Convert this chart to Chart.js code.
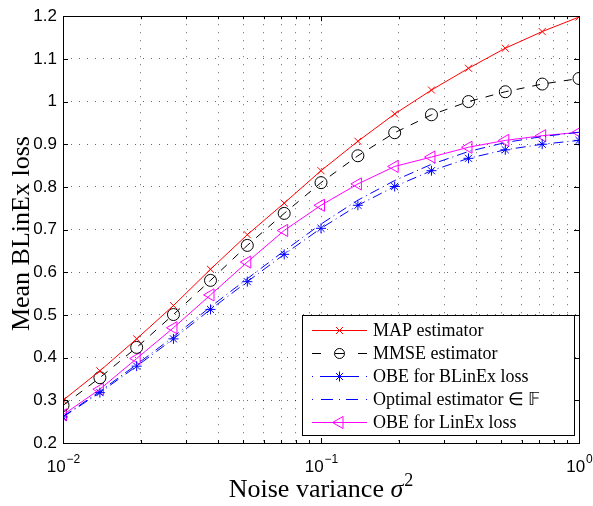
<!DOCTYPE html>
<html>
<head>
<meta charset="utf-8">
<script src="https://cdn.jsdelivr.net/npm/chart.js@4/dist/chart.umd.min.js"></script>
<style>
  body { margin: 0; background: #fff; }
  #wrap { width: 593px; height: 506px; }
</style>
</head>
<body>
<div id="wrap"><canvas id="lossChart" width="593" height="506"></canvas></div>
<script>
// --- DATA ---
const noiseVar = [0.01, 0.0139, 0.0193, 0.0268, 0.0373, 0.0518, 0.0720, 0.1, 0.139, 0.193, 0.268, 0.373, 0.518, 0.720, 1.0];

const mapLoss     = [0.300, 0.369, 0.444, 0.522, 0.607, 0.688, 0.762, 0.838, 0.907, 0.971, 1.027, 1.078, 1.125, 1.164, 1.198];
const mmseLoss    = [0.288, 0.353, 0.424, 0.501, 0.581, 0.663, 0.738, 0.810, 0.873, 0.927, 0.969, 1.000, 1.023, 1.041, 1.054];
const obeBlinex   = [0.261, 0.318, 0.380, 0.444, 0.513, 0.578, 0.642, 0.703, 0.757, 0.801, 0.838, 0.867, 0.887, 0.900, 0.909];
const optimalLoss = [0.262, 0.321, 0.384, 0.449, 0.519, 0.585, 0.650, 0.713, 0.769, 0.815, 0.853, 0.883, 0.904, 0.918, 0.928];
const obeLinex    = [0.266, 0.326, 0.398, 0.470, 0.547, 0.624, 0.698, 0.757, 0.807, 0.848, 0.870, 0.893, 0.909, 0.920, 0.928];

const seriesNames = ['MAP estimator', 'MMSE estimator', 'OBE for BLinEx loss', 'Optimal estimator \u2208 \u{1D53D}', 'OBE for LinEx loss'];

// tick / grid positions
const xGridValues = [0.01, 0.02, 0.03, 0.04, 0.05, 0.06, 0.07, 0.08, 0.09, 0.1, 0.2, 0.3, 0.4, 0.5, 0.6, 0.7, 0.8, 0.9, 1];
const xDecades = [0.01, 0.1, 1];
const xDecadeExp = ['\u22122', '\u22121', '0'];
const yMin = 0.2, yMax = 1.2, yStep = 0.1;

const SANS = '"Liberation Sans", Arial, Helvetica, sans-serif';
const SERIF = '"Liberation Serif", "Times New Roman", serif';
const GRID = 'rgba(0,0,0,0.6)';

const pts = arr => arr.map((y, i) => ({ x: noiseVar[i], y }));

// --- PLUGIN: axis box, inner ticks, labels, legend ---
const matlabDecor = {
    id: 'matlabDecor',
    afterDraw(chart) {
        const ctx = chart.ctx;
        const a = chart.chartArea;
        const xs = chart.scales.x, ys = chart.scales.y;
        ctx.save();

        // axis box
        ctx.strokeStyle = '#000';
        ctx.lineWidth = 1;
        ctx.setLineDash([]);
        ctx.strokeRect(Math.round(a.left) + 0.5, Math.round(a.top) + 0.5,
                       Math.round(a.right - a.left), Math.round(a.bottom - a.top));

        // inner tick marks
        ctx.beginPath();
        xGridValues.forEach(v => {
            const px = Math.round(xs.getPixelForValue(v)) + 0.5;
            const len = xDecades.includes(v) ? 5 : 3;
            ctx.moveTo(px, a.bottom); ctx.lineTo(px, a.bottom - len);
            ctx.moveTo(px, a.top); ctx.lineTo(px, a.top + len);
        });
        for (let v = yMin; v <= yMax + 1e-9; v += yStep) {
            const py = Math.round(ys.getPixelForValue(v)) + 0.5;
            ctx.moveTo(a.left, py); ctx.lineTo(a.left + 5, py);
            ctx.moveTo(a.right, py); ctx.lineTo(a.right - 5, py);
        }
        ctx.stroke();

        // x tick labels 10^n
        ctx.fillStyle = '#000';
        ctx.textBaseline = 'alphabetic';
        ctx.textAlign = 'left';
        xDecades.forEach((v, i) => {
            const px = xs.getPixelForValue(v);
            ctx.font = '17px ' + SANS;
            const wBase = ctx.measureText('10').width;
            ctx.font = '12px ' + SANS;
            const wExp = ctx.measureText(xDecadeExp[i]).width;
            const x0 = px - (wBase + wExp) / 2;
            ctx.font = '17px ' + SANS;
            ctx.fillText('10', x0, 472);
            ctx.font = '12px ' + SANS;
            ctx.fillText(xDecadeExp[i], x0 + wBase + 1, 463);
        });

        // x axis title
        const cx = (a.left + a.right) / 2;
        ctx.font = '26px ' + SERIF;
        const t1 = 'Noise variance ';
        const w1 = ctx.measureText(t1).width;
        ctx.font = 'italic 26px ' + SERIF;
        const w2 = ctx.measureText('\u03C3').width;
        ctx.font = '18px ' + SERIF;
        const w3 = ctx.measureText('2').width;
        let tx = cx - (w1 + w2 + w3 + 1) / 2;
        ctx.font = '26px ' + SERIF;
        ctx.fillText(t1, tx, 497);
        ctx.font = 'italic 26px ' + SERIF;
        ctx.fillText('\u03C3', tx + w1, 497);
        ctx.font = '18px ' + SERIF;
        ctx.fillText('2', tx + w1 + w2 + 1, 486);

        // y axis title
        ctx.save();
        ctx.translate(29, (a.top + a.bottom) / 2 + 4);
        ctx.rotate(-Math.PI / 2);
        ctx.textAlign = 'center';
        ctx.font = '26px ' + SERIF;
        ctx.fillText('Mean BLinEx loss', 0, 0);
        ctx.restore();

        // legend
        const lw = 272, lh = 120;
        const lx = Math.round(a.right - 5 - lw), ly = Math.round(a.bottom - 8 - lh);
        ctx.fillStyle = '#fff';
        ctx.fillRect(lx, ly, lw, lh);
        ctx.strokeStyle = '#000';
        ctx.strokeRect(lx + 0.5, ly + 0.5, lw, lh);
        const rowH = 23.1;
        chart.data.datasets.forEach((ds, i) => {
            const ry = Math.round(ly + 15 + i * rowH) + 0.5;
            const x1 = lx + 10, x2 = lx + 65, xm = (x1 + x2) / 2;
            ctx.strokeStyle = ds.borderColor;
            ctx.lineWidth = ds.borderWidth;
            ctx.setLineDash(ds.legendDash || ds.borderDash || []);
            ctx.beginPath();
            ctx.moveTo(x1, ry); ctx.lineTo(x2, ry);
            ctx.stroke();
            ctx.setLineDash([]);
            if (ds.pointRadius > 0) {
                ctx.fillStyle = 'rgba(0,0,0,0)';
                ctx.strokeStyle = ds.pointBorderColor;
                ctx.lineWidth = ds.pointBorderWidth;
                Chart.helpers.drawPoint(ctx, {
                    pointStyle: ds.pointStyle, rotation: ds.pointRotation || 0,
                    radius: ds.legendRadius || ds.pointRadius, borderWidth: ds.pointBorderWidth
                }, xm, ry);
            }
            ctx.fillStyle = '#000';
            ctx.font = '18px ' + SERIF;
            ctx.textAlign = 'left';
            ctx.textBaseline = 'middle';
            ctx.fillText(ds.label, lx + 71, ry + 1);
        });
        ctx.restore();
    }
};

const ctx = document.getElementById('lossChart').getContext('2d');
new Chart(ctx, {
    type: 'line',
    data: {
        datasets: [
            {
                label: seriesNames[0], data: pts(mapLoss),
                borderColor: '#ff0000', borderWidth: 1,
                pointStyle: 'crossRot', pointRadius: 5, pointBorderColor: '#ff0000', pointBorderWidth: 1,
                pointBackgroundColor: 'rgba(0,0,0,0)'
            },
            {
                label: seriesNames[1], data: pts(mmseLoss),
                borderColor: '#000000', borderWidth: 1, borderDash: [8, 8], legendDash: [9, 14, 9, 14, 9],
                pointStyle: 'circle', pointRadius: 6, legendRadius: 5, pointBorderColor: '#000000', pointBorderWidth: 1,
                pointBackgroundColor: 'rgba(0,0,0,0)'
            },
            {
                label: seriesNames[2], data: pts(obeBlinex),
                borderColor: '#0000ff', borderWidth: 1, borderDash: [10, 4, 1, 4], legendDash: [1, 7, 39, 7, 1],
                pointStyle: 'star', pointRadius: 5, pointBorderColor: '#0000ff', pointBorderWidth: 1,
                pointBackgroundColor: 'rgba(0,0,0,0)'
            },
            {
                label: seriesNames[3], data: pts(optimalLoss),
                borderColor: '#0000ff', borderWidth: 1, borderDash: [10, 4, 1, 4], legendDash: [1, 8, 12, 6, 1, 6, 12, 8, 1],
                pointRadius: 0
            },
            {
                label: seriesNames[4], data: pts(obeLinex),
                borderColor: '#ff00ff', borderWidth: 1,
                pointStyle: 'triangle', pointRotation: -90, pointRadius: 7,
                pointBorderColor: '#ff00ff', pointBorderWidth: 1,
                pointBackgroundColor: 'rgba(0,0,0,0)'
            }
        ]
    },
    options: {
        responsive: false,
        devicePixelRatio: 1,
        animation: false,
        layout: { padding: { top: 10, right: 14, left: 0, bottom: 0 } },
        plugins: { legend: { display: false }, tooltip: { enabled: false } },
        elements: { line: { tension: 0, fill: false } },
        scales: {
            x: {
                type: 'logarithmic', min: 0.01, max: 1,
                afterBuildTicks: s => { s.ticks = xGridValues.map(v => ({ value: v })); },
                afterFit: s => { s.height = 63; },
                ticks: { display: false },
                grid: { color: GRID, lineWidth: 1, drawTicks: false },
                border: { display: false, dash: [1, 7] }
            },
            y: {
                type: 'linear', min: yMin, max: yMax,
                afterFit: s => { s.width = 63; },
                ticks: {
                    stepSize: yStep, padding: 6, color: '#000',
                    font: { family: SANS, size: 17 },
                    callback: v => String(+v.toFixed(1))
                },
                grid: { color: GRID, lineWidth: 1, drawTicks: false },
                border: { display: false, dash: [1, 7] }
            }
        }
    },
    plugins: [matlabDecor]
});
</script>
</body>
</html>
